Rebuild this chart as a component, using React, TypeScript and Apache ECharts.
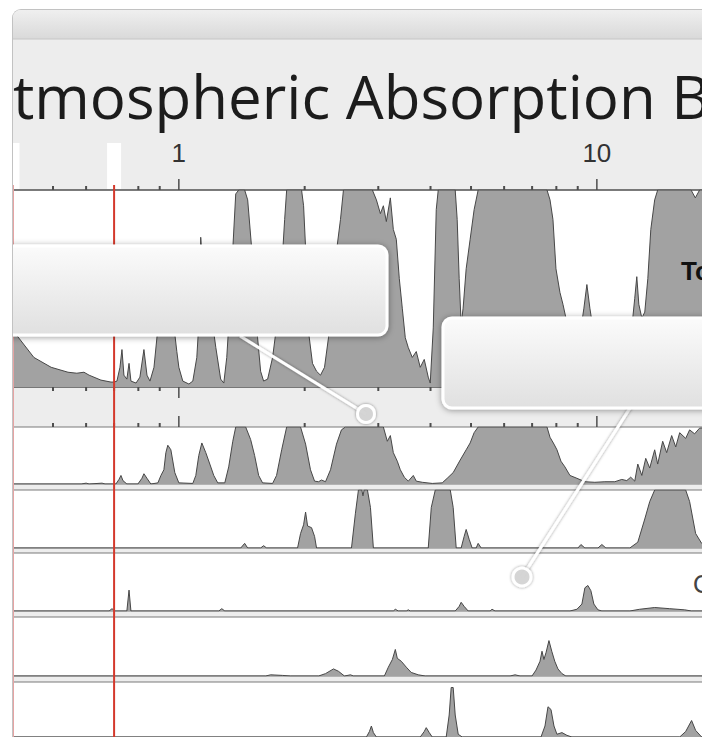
import React, { useEffect, useRef } from 'react';
import * as echarts from 'echarts';

// Wavelength (µm) vs absorption (%)
const TOTAL: [number, number][] = [
  [0.4, 29], [0.45, 15], [0.495, 10], [0.543, 7.5], [0.57, 7], [0.593, 7.5], [0.61, 6], [0.651, 3.5], [0.688, 2.5],
  [0.7, 2.5], [0.711, 3], [0.723, 10], [0.731, 19], [0.739, 6], [0.751, 4], [0.76, 12], [0.768, 3], [0.79, 2],
  [0.807, 5], [0.825, 19], [0.839, 6], [0.853, 3], [0.872, 10], [0.891, 30], [0.916, 50], [0.941, 55], [0.968, 35],
  [0.989, 18], [1.0, 10], [1.022, 3], [1.057, 1.5], [1.08, 3], [1.104, 15], [1.122, 40], [1.128, 76], [1.141, 60],
  [1.166, 45], [1.199, 35], [1.226, 20], [1.259, 4], [1.281, 2], [1.302, 15], [1.324, 40], [1.346, 70], [1.368, 98],
  [1.391, 100], [1.437, 100], [1.461, 95], [1.494, 70], [1.518, 45], [1.543, 25], [1.569, 8], [1.595, 3], [1.631, 4],
  [1.676, 15], [1.723, 35], [1.762, 60], [1.791, 85], [1.811, 100], [1.966, 100], [1.988, 92], [2.021, 60],
  [2.043, 28], [2.088, 12], [2.135, 8], [2.182, 6], [2.231, 10], [2.28, 25], [2.318, 45], [2.37, 65], [2.436, 85],
  [2.476, 100], [2.904, 100], [2.969, 95], [3.035, 88], [3.085, 92], [3.136, 84], [3.206, 96], [3.259, 80],
  [3.313, 75], [3.368, 55], [3.424, 40], [3.481, 25], [3.539, 20], [3.618, 15], [3.698, 18], [3.78, 10], [3.864, 14],
  [3.95, 5], [3.994, 2], [4.061, 30], [4.128, 90], [4.174, 100], [4.583, 100], [4.633, 85], [4.684, 55], [4.735, 32],
  [4.787, 40], [4.868, 60], [4.976, 75], [5.086, 90], [5.2, 100], [7.598, 100], [7.725, 95], [7.852, 85], [7.983, 60],
  [8.16, 48], [8.296, 42], [8.433, 35], [8.621, 28], [8.862, 24], [9.108, 26], [9.311, 40], [9.465, 52], [9.623, 40],
  [9.783, 30], [10.06, 25], [10.45, 22], [11.04, 22], [11.66, 24], [12.12, 30], [12.32, 45], [12.46, 56], [12.6, 42],
  [12.81, 35], [13.02, 38], [13.24, 55], [13.46, 80], [13.75, 95], [13.98, 100], [16.8, 100], [17.2, 96],
  [17.61, 100], [20, 100],
];

const WATER_VAPOR: [number, number][] = [
  [0.4, 0], [0.584, 0], [0.6, 1.5], [0.61, 0], [0.655, 1.5], [0.666, 0], [0.707, 0], [0.719, 8], [0.727, 15],
  [0.735, 6], [0.751, 0], [0.798, 0], [0.816, 10], [0.825, 18], [0.839, 10], [0.857, 0], [0.891, 2], [0.906, 15],
  [0.921, 25], [0.931, 55], [0.941, 68], [0.957, 60], [0.978, 20], [1.0, 2], [1.08, 1], [1.098, 15], [1.116, 50],
  [1.135, 72], [1.16, 55], [1.186, 35], [1.212, 15], [1.239, 2], [1.288, 2], [1.316, 30], [1.346, 75], [1.368, 100],
  [1.445, 100], [1.485, 78], [1.518, 50], [1.552, 15], [1.586, 2], [1.676, 1], [1.713, 15], [1.762, 60], [1.811, 100],
  [1.955, 100], [2.01, 70], [2.065, 25], [2.112, 5], [2.159, 4], [2.194, 7], [2.243, 4], [2.306, 25], [2.383, 70],
  [2.449, 95], [2.503, 100], [3.085, 100], [3.153, 75], [3.206, 85], [3.259, 55], [3.331, 40], [3.387, 25],
  [3.462, 12], [3.539, 5], [3.638, 15], [3.698, 5], [3.822, 3], [4.039, 1], [4.267, 2], [4.385, 10], [4.532, 20],
  [4.71, 42], [4.868, 60], [4.976, 72], [5.086, 90], [5.2, 100], [7.598, 100], [7.725, 82], [7.896, 70], [8.027, 60],
  [8.205, 40], [8.387, 30], [8.621, 15], [8.96, 10], [9.362, 4], [9.89, 3], [10.45, 4], [11.04, 4], [11.47, 8],
  [11.79, 6], [12.05, 12], [12.32, 5], [12.53, 35], [12.81, 15], [13.09, 45], [13.38, 28], [13.75, 60], [13.98, 35],
  [14.37, 75], [14.69, 55], [15.1, 85], [15.44, 65], [15.78, 90], [16.31, 80], [16.67, 95], [17.13, 88], [17.61, 98],
  [20, 100],
];

const CARBON_DIOXIDE: [number, number][] = [
  [0.4, 0], [1.406, 0], [1.437, 8], [1.461, 0], [1.569, 0], [1.595, 4], [1.622, 0], [1.923, 0], [1.955, 25],
  [1.988, 40], [2.01, 62], [2.032, 38], [2.077, 35], [2.112, 20], [2.135, 0], [2.588, 0], [2.645, 60], [2.689, 100],
  [2.74, 100], [2.757, 90], [2.775, 100], [2.826, 100], [2.873, 70], [2.92, 0], [3.95, 0], [4.017, 70], [4.106, 100],
  [4.46, 100], [4.532, 70], [4.608, 0], [4.735, 0], [4.814, 20], [4.868, 32], [4.949, 15], [5.031, 0], [5.143, 0],
  [5.2, 8], [5.288, 0], [9.01, 0], [9.16, 6], [9.362, 0], [10.06, 0], [10.28, 6], [10.51, 0], [11.99, 0], [12.53, 10],
  [13.02, 50], [13.38, 80], [13.75, 100], [16.31, 100], [16.67, 80], [17.23, 25], [17.81, 8], [18.41, 0], [20, 0],
];

const OXYGEN_OZONE: [number, number][] = [
  [0.4, 0], [0.681, 0], [0.692, 4], [0.703, 0], [0.751, 0], [0.76, 36], [0.768, 0], [1.246, 0], [1.267, 4],
  [1.288, 0], [3.259, 0], [3.295, 3], [3.35, 0], [3.5, 0], [3.539, 2], [3.578, 0], [4.583, 0], [4.684, 8],
  [4.735, 15], [4.814, 8], [4.922, 0], [5.553, 0], [5.614, 3], [5.707, 0], [8.621, 0], [8.96, 3], [9.209, 12],
  [9.362, 40], [9.517, 44], [9.676, 35], [9.836, 12], [10.06, 2], [10.28, 0], [11.99, 0], [12.66, 3], [13.75, 6],
  [14.94, 4], [16.22, 2], [16.85, 0], [20, 0],
];

const METHANE: [number, number][] = [
  [0.4, 0], [1.613, 0], [1.658, 2], [1.771, 1], [1.851, 0], [2.159, 0], [2.243, 4], [2.344, 12], [2.409, 8],
  [2.49, 0], [2.574, 2], [2.617, 0], [3.102, 0], [3.171, 15], [3.242, 28], [3.295, 45], [3.331, 30], [3.405, 25],
  [3.5, 15], [3.597, 6], [3.739, 2], [3.886, 0], [6.199, 0], [6.373, 2], [6.551, 0], [6.996, 0], [7.151, 10],
  [7.311, 25], [7.392, 42], [7.47, 28], [7.56, 40], [7.68, 60], [7.8, 42], [7.93, 25], [8.07, 12], [8.25, 4],
  [8.43, 0], [20, 0],
];

const NITROUS_OXIDE: [number, number][] = [
  [0.4, 0], [2.81, 0], [2.857, 10], [2.888, 20], [2.92, 8], [2.969, 0], [3.78, 0], [3.864, 10], [3.907, 17],
  [3.972, 8], [4.039, 0], [4.361, 0], [4.433, 40], [4.482, 90], [4.532, 90], [4.583, 40], [4.659, 5], [4.762, 0],
  [7.351, 0], [7.514, 20], [7.64, 55], [7.767, 50], [7.896, 20], [8.027, 5], [8.251, 8], [8.48, 3], [8.715, 0],
  [15.78, 0], [16.31, 10], [16.85, 30], [17.23, 12], [17.81, 0], [20, 0],
];

const PANEL_DATA = [TOTAL, WATER_VAPOR, CARBON_DIOXIDE, OXYGEN_OZONE, METHANE, NITROUS_OXIDE];
const TITLE = 'Atmospheric Absorption Bands';
const TOTAL_LABEL = 'Total Absorption and Scattering';
const OZONE_LABEL = 'Oxygen and Ozone';
const AXIS_LABELS = [1, 10];
const MINOR_TICKS = [0.5, 0.6, 0.7, 0.8, 0.9, 2, 3, 4, 5, 6, 7, 8, 9, 20];
const VISIBLE_BOUNDS = [0.4, 0.7];
const X_MIN = 0.4;
const X_MAX = 20;

// layout of the panels (pixels)
const CHART_W = 760;
const CHART_H = 737;
const GRID_LEFT = 12.5;
const GRID_WIDTH = 710.2;
const PANELS = [
  { top: 190, height: 197 },
  { top: 427, height: 57 },
  { top: 490, height: 58 },
  { top: 553, height: 58 },
  { top: 617, height: 59 },
  { top: 682, height: 58 },
];

function tickRenderer(mode: 'panel1' | 'panel2') {
  return (_params: any, api: any) => {
    const v = api.value(0);
    const major = api.value(1) === 1;
    const len = major ? 11 : 4;
    const style = { stroke: '#4d4d4d', lineWidth: major ? 1.5 : 2 };
    if (mode === 'panel1') {
      const t = api.coord([v, 100]);
      const b = api.coord([v, 0]);
      return {
        type: 'group',
        children: [
          { type: 'line', shape: { x1: t[0], y1: t[1], x2: t[0], y2: t[1] - len }, style },
          { type: 'line', shape: { x1: b[0], y1: b[1], x2: b[0], y2: b[1] + len }, style },
        ],
      };
    }
    const t = api.coord([v, 100]);
    return { type: 'line', shape: { x1: t[0], y1: t[1], x2: t[0], y2: t[1] - len }, style };
  };
}

export default function App() {
  const ref = useRef<HTMLDivElement>(null);
  useEffect(() => {
    const chart = echarts.init(ref.current as HTMLDivElement, null, { renderer: 'svg' });
    const tickData = [...MINOR_TICKS.map((v) => [v, 0]), ...AXIS_LABELS.map((v) => [v, 1])];
    const grad = (a: string, b: string) =>
      new echarts.graphic.LinearGradient(0, 0, 0, 1, [
        { offset: 0, color: a },
        { offset: 1, color: b },
      ]);
    const boxStyle = {
      fill: grad('#fbfbfb', '#e0e0e0'),
      stroke: '#ffffff',
      lineWidth: 3,
      shadowBlur: 6,
      shadowOffsetY: 1,
      shadowColor: 'rgba(0,0,0,0.38)',
    };
    const connStyle = { stroke: '#ffffff', lineWidth: 3, shadowBlur: 3, shadowColor: 'rgba(0,0,0,0.45)' };
    const ringStyle = {
      fill: 'rgba(215,215,215,0.9)',
      stroke: '#ffffff',
      lineWidth: 3,
      shadowBlur: 3,
      shadowColor: 'rgba(0,0,0,0.45)',
    };

    const option: any = {
      animation: false,
      backgroundColor: '#ededed',
      grid: PANELS.map((p, i) => ({
        left: GRID_LEFT,
        top: p.top,
        width: GRID_WIDTH,
        height: p.height,
        show: true,
        backgroundColor: '#ffffff',
        borderColor: i === 0 ? '#505050' : '#7a7a7a',
        borderWidth: i === 0 ? 1.5 : 1.2,
      })),
      xAxis: PANELS.map((_p, i) => ({
        type: 'log',
        logBase: 10,
        gridIndex: i,
        min: X_MIN,
        max: X_MAX,
        position: 'top',
        axisLine: { show: false },
        axisTick: { show: false },
        splitLine: { show: false },
        axisLabel:
          i === 0
            ? {
                show: true,
                margin: 24,
                fontSize: 26,
                color: '#333333',
                fontFamily: 'Liberation Sans',
                formatter: (v: number) => {
                  const hit = AXIS_LABELS.find((t) => Math.abs(v - t) < 1e-6 * t);
                  return hit !== undefined ? String(hit) : '';
                },
              }
            : { show: false },
      })),
      yAxis: PANELS.map((_p, i) => ({ type: 'value', gridIndex: i, min: 0, max: 100, show: false })),
      series: [
        ...PANEL_DATA.map((d, i) => ({
          type: 'line',
          xAxisIndex: i,
          yAxisIndex: i,
          data: d,
          symbol: 'none',
          showSymbol: false,
          silent: true,
          lineStyle: { color: '#474747', width: 1 },
          areaStyle: { color: '#a2a2a2', opacity: 1 },
          z: 2,
        })),
        {
          type: 'custom',
          xAxisIndex: 0,
          yAxisIndex: 0,
          clip: false,
          silent: true,
          z: 4,
          data: tickData,
          renderItem: tickRenderer('panel1'),
        },
        {
          type: 'custom',
          xAxisIndex: 1,
          yAxisIndex: 1,
          clip: false,
          silent: true,
          z: 4,
          data: tickData,
          renderItem: tickRenderer('panel2'),
        },
        {
          type: 'custom',
          xAxisIndex: 0,
          yAxisIndex: 0,
          clip: false,
          silent: true,
          z: 6,
          data: VISIBLE_BOUNDS.map((v) => [v, 0]),
          renderItem: (params: any, api: any) => {
            const v = api.value(0);
            const p = api.coord([v, 100]);
            const first = params.dataIndex === 0;
            return {
              type: 'group',
              children: [
                { type: 'rect', shape: { x: p[0] - 7, y: 143, width: 14, height: p[1] - 143 - 1 }, style: { fill: '#ffffff' } },
                {
                  type: 'line',
                  shape: { x1: p[0], y1: p[1] - 5, x2: p[0], y2: 760 },
                  style: { stroke: first ? '#e6a3a3' : '#d4392c', lineWidth: first ? 3 : 2 },
                },
              ],
            };
          },
        },
      ],
      graphic: [
        { type: 'rect', shape: { x: 0, y: 0, width: CHART_W, height: 39 }, style: { fill: grad('#f7f7f7', '#d9d9d9') }, z: 1 },
        { type: 'line', shape: { x1: 0, y1: 39, x2: CHART_W, y2: 39 }, style: { stroke: '#c6c6c6', lineWidth: 1 }, z: 1 },
        {
          type: 'text',
          x: -25,
          y: 96,
          style: { text: TITLE, font: '400 60px "Open Sans"', fill: '#1c1c1c', verticalAlign: 'middle', align: 'left' },
          z: 10,
        },
        {
          type: 'text',
          x: 681,
          y: 271,
          style: { text: TOTAL_LABEL, font: 'bold 26px "Liberation Sans"', fill: '#111111', verticalAlign: 'middle', align: 'left' },
          z: 10,
        },
        {
          type: 'text',
          x: 693,
          y: 584,
          style: { text: OZONE_LABEL, font: '26px "Liberation Sans"', fill: '#444444', verticalAlign: 'middle', align: 'left' },
          z: 10,
        },
        { type: 'line', shape: { x1: 240, y1: 336, x2: 366, y2: 414 }, style: connStyle, z: 98 },
        { type: 'rect', shape: { x: -40, y: 246, width: 427, height: 89, r: 9 }, style: boxStyle, z: 100 },
        { type: 'circle', shape: { cx: 366, cy: 414, r: 8.5 }, style: ringStyle, z: 101 },
        { type: 'line', shape: { x1: 632, y1: 405, x2: 522, y2: 577 }, style: connStyle, z: 98 },
        { type: 'rect', shape: { x: 443, y: 318, width: 340, height: 90, r: 9 }, style: boxStyle, z: 100 },
        { type: 'circle', shape: { cx: 522, cy: 577, r: 9 }, style: ringStyle, z: 101 },
      ],
    };
    chart.setOption(option);
    return () => chart.dispose();
  }, []);

  return (
    <div
      style={{
        position: 'absolute',
        left: 12,
        top: 9,
        width: 689,
        height: 727,
        overflow: 'hidden',
        borderLeft: '1px solid #c2c2c2',
        borderTop: '1px solid #c2c2c2',
        borderTopLeftRadius: 9,
        background: '#ededed',
      }}
    >
      <div ref={ref} style={{ position: 'absolute', left: -13, top: -10, width: CHART_W, height: CHART_H }} />
    </div>
  );
}
